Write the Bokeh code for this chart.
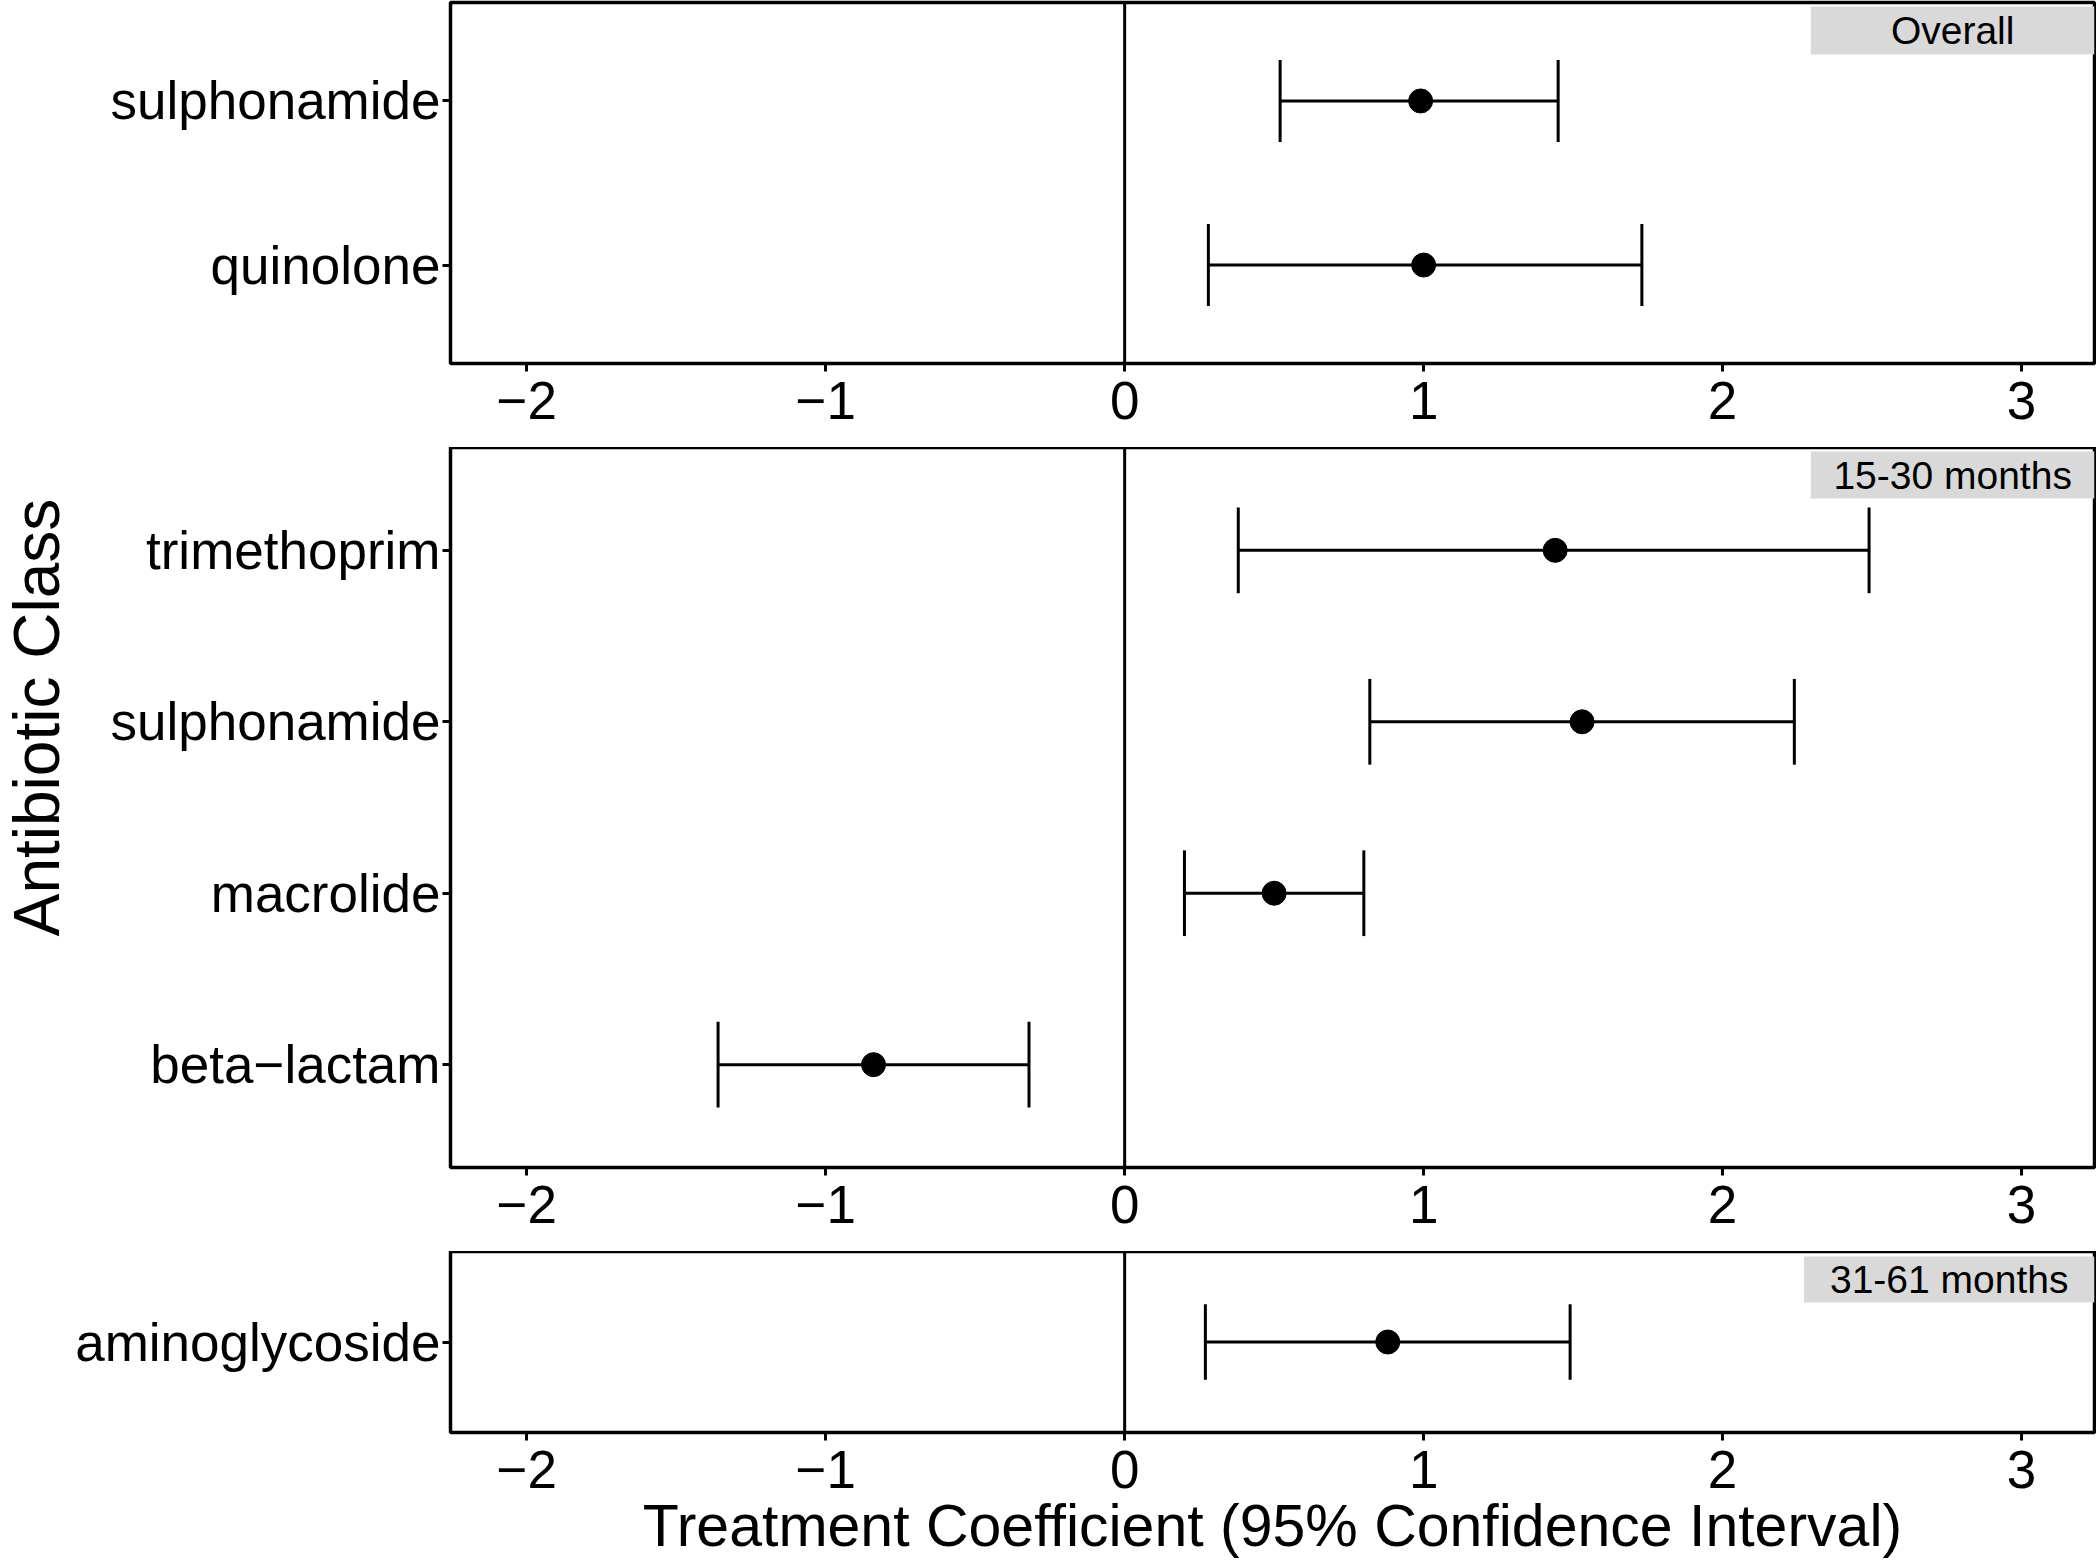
import numpy as np
from bokeh.plotting import figure
from bokeh.layouts import column, row
from bokeh.models import Range1d, FixedTicker, Span
from bokeh.core.properties import value
from bokeh.embed import file_html
from bokeh.resources import INLINE

FONT = "Liberation Sans"

# ---------------- data (bottom-to-top within each panel) ----------------
overall_classes = ["quinolone", "sulphonamide"]
overall_est = [1.00, 0.99]
overall_lo = [0.28, 0.52]
overall_hi = [1.73, 1.45]

m15_classes = ["beta\u2212lactam", "macrolide", "sulphonamide", "trimethoprim"]
m15_est = [-0.84, 0.50, 1.53, 1.44]
m15_lo = [-1.36, 0.20, 0.82, 0.38]
m15_hi = [-0.32, 0.80, 2.24, 2.49]

m31_classes = ["aminoglycoside"]
m31_est = [0.88]
m31_lo = [0.27]
m31_hi = [1.49]

strip_labels = ["Overall", "15-30 months", "31-61 months"]
x_ticks = [-2, -1, 0, 1, 2, 3]
x_tick_labels = ["\u22122", "\u22121", "0", "1", "2", "3"]
x_title = "Treatment Coefficient (95% Confidence Interval)"
y_title = "Antibiotic Class"

X_START, X_END = -2.255, 3.244
TITLE_W = 72
FIG_W = 2024
LEFT_B = 378
RIGHT_B = 2


def make_panel(classes, est, lo, hi, label, height, top_border, bottom_border,
               y_end_pad, box_left, box_top_px, box_bot_px, xtitle=None):
    n = len(classes)
    pos = np.arange(1, n + 1)
    ymin, ymax = 0.4, n + y_end_pad
    p = figure(width=FIG_W, height=height,
               x_range=Range1d(X_START, X_END), y_range=Range1d(ymin, ymax),
               output_backend="svg", toolbar_location=None,
               min_border_left=LEFT_B, min_border_right=RIGHT_B,
               min_border_top=top_border, min_border_bottom=bottom_border)
    p.background_fill_color = "white"
    p.border_fill_color = "white"
    p.xgrid.visible = False
    p.ygrid.visible = False
    p.outline_line_color = "black"
    p.outline_line_width = 3.5

    frame_h = height - bottom_border - top_border
    unit = frame_h / (ymax - ymin)
    b_top = ymax - box_top_px / unit
    b_bot = ymax - box_bot_px / unit
    p.quad(left=[box_left], right=[X_END], top=[b_top], bottom=[b_bot],
           fill_color="#D9D9D9", line_color=None)
    p.text(x=[(box_left + X_END) / 2], y=[(b_top + b_bot) / 2], text=[label],
           text_align="center", text_baseline="middle",
           text_font=value(FONT), text_font_size="39px", text_color="black")

    p.add_layout(Span(location=0, dimension="height", line_color="black",
                      line_width=3))

    p.segment(x0=lo, y0=pos, x1=hi, y1=pos, line_color="black", line_width=3)
    p.segment(x0=lo, y0=pos - 0.25, x1=lo, y1=pos + 0.25,
              line_color="black", line_width=3)
    p.segment(x0=hi, y0=pos - 0.25, x1=hi, y1=pos + 0.25,
              line_color="black", line_width=3)
    p.scatter(x=est, y=pos, size=24, color="black")

    p.xaxis.ticker = FixedTicker(ticks=x_ticks)
    p.xaxis.major_label_overrides = {t: s for t, s in zip(x_ticks, x_tick_labels)}
    p.yaxis.ticker = FixedTicker(ticks=[int(v) for v in pos])
    p.yaxis.major_label_overrides = {int(v): c for v, c in zip(pos, classes)}
    for ax in (p.xaxis[0], p.yaxis[0]):
        ax.axis_line_color = None
        ax.major_tick_out = 8
        ax.major_tick_in = 0
        ax.minor_tick_out = 0
        ax.minor_tick_in = 0
        ax.major_tick_line_width = 3
        ax.major_tick_line_color = "black"
        ax.major_label_text_font = FONT
        ax.major_label_text_font_size = "53px"
        ax.major_label_text_color = "black"
    p.xaxis.major_label_standoff = 10
    p.yaxis.major_label_standoff = 2
    if xtitle:
        p.xaxis.axis_label = xtitle
        p.xaxis.axis_label_text_font = FONT
        p.xaxis.axis_label_text_font_size = "59px"
        p.xaxis.axis_label_text_font_style = "normal"
        p.xaxis.axis_label_text_color = "black"
        p.xaxis.axis_label_standoff = 2
    return p


p1 = make_panel(overall_classes, overall_est, overall_lo, overall_hi,
                strip_labels[0], 447, 2, 84, 0.6, 2.295, 4, 52)
p2 = make_panel(m15_classes, m15_est, m15_lo, m15_hi,
                strip_labels[1], 804, 0, 84, 0.6, 2.295, 4, 51)
p3 = make_panel(m31_classes, m31_est, m31_lo, m31_hi,
                strip_labels[2], 312, 0, 131, 0.6, 2.272, 5, 51, xtitle=x_title)

TH = 447 + 804 + 312
t = figure(width=TITLE_W, height=TH, x_range=Range1d(0, TITLE_W),
           y_range=Range1d(0, TH),
           output_backend="svg", toolbar_location=None,
           x_axis_type=None, y_axis_type=None, min_border=0)
t.xgrid.visible = False
t.ygrid.visible = False
t.outline_line_color = None
t.text(x=[TITLE_W / 2], y=[TH - 717], text=[y_title], angle=np.pi / 2,
       text_align="center", text_baseline="middle",
       text_font=value(FONT), text_font_size="64px", text_color="black")

layout = row(t, column(p1, p2, p3))
open("out.html", "w").write(file_html(layout, INLINE))
